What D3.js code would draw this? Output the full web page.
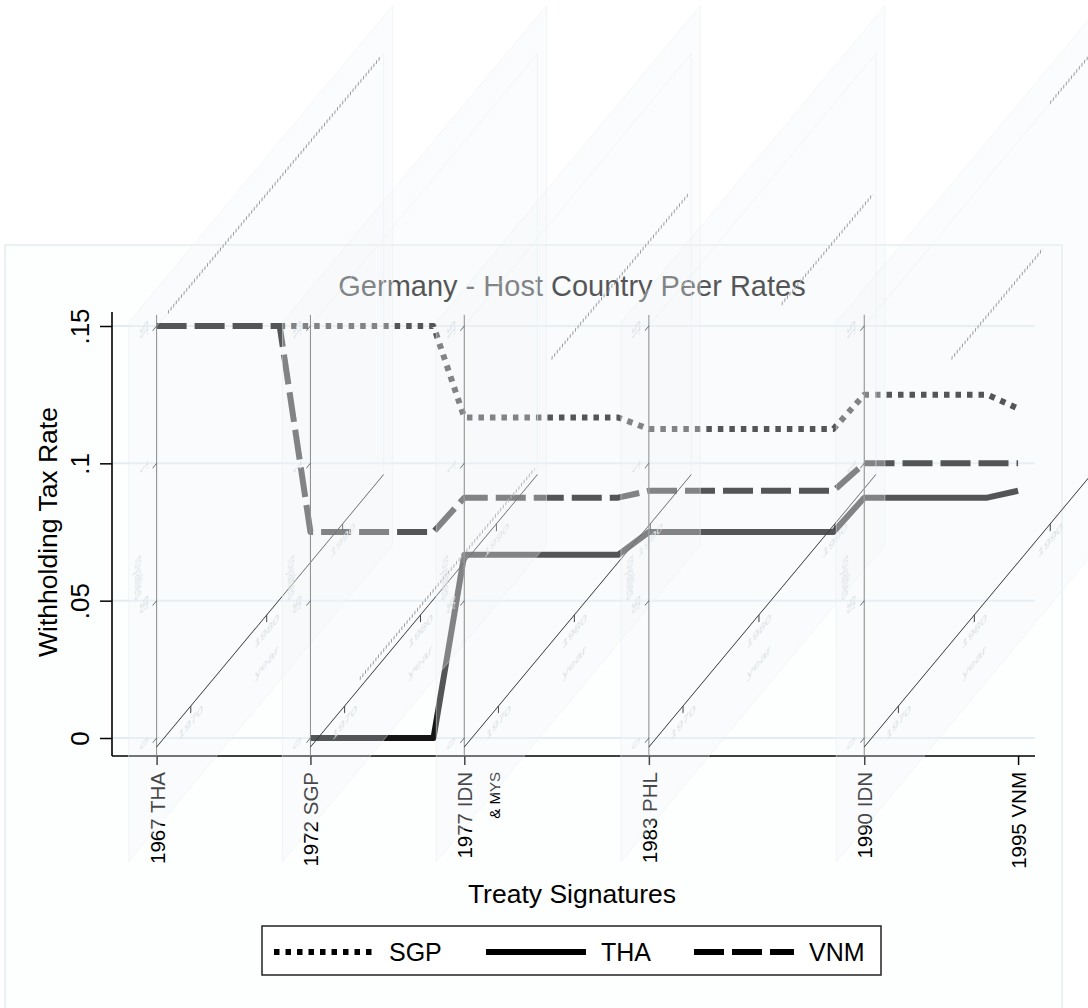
<!DOCTYPE html>
<html>
<head>
<meta charset="utf-8">
<script src="https://cdn.jsdelivr.net/npm/d3@7"></script>
<style>
  body { margin: 0; background: #fff; }
  svg { display: block; }
</style>
</head>
<body>
<div id="chart"></div>
<script>
// Germany - host country peer rates, redrawn with the inset panels that leak into the plot

// Treaty ticks on the x axis
const treatyYears = [1967, 1972, 1977, 1983, 1990, 1995];
const treatyLabels = ["1967 THA", "1972 SGP", "1977 IDN", "1983 PHL", "1990 IDN", "1995 VNM"];
const treatySubLabels = ["", "", "& MYS", "", "", ""];

// y axis
const yTicks = [0, 0.05, 0.1, 0.15];
const yTickLabels = ["0", ".05", ".1", ".15"];

// peer rate series
const seriesNames = ["SGP", "THA", "VNM"];
const sgpYears = [1971, 1976, 1977, 1982, 1983, 1989, 1990, 1994, 1995];
const sgpRates = [0.15, 0.15, 0.1167, 0.1167, 0.1125, 0.1125, 0.125, 0.125, 0.12];
const thaYears = [1972, 1976, 1977, 1982, 1983, 1989, 1990, 1994, 1995];
const thaRates = [0, 0, 0.0667, 0.0667, 0.075, 0.075, 0.0875, 0.0875, 0.09];
const vnmYears = [1967, 1971, 1972, 1976, 1977, 1982, 1983, 1989, 1990, 1995];
const vnmRates = [0.15, 0.15, 0.075, 0.075, 0.0875, 0.0875, 0.09, 0.09, 0.1, 0.1];

// small sheared inset plots (royalties by year), one per treaty tick
// null = gap in the inset line
const insetYearTicks = [1970, 1980, 1990];
const insetYears = [[1967, 1995], [1972, 1995], [1977, 1995], [1983, 1995], [1977, 1989, 1989.5, 1990, 1995]];
const insetRates = [[0.15, 0.15], [0, 0], [0.1, 0.1], [0.1, 0.1], [0.1, 0.1, null, 0.15, 0.15]];

const W = 1088, H = 1008;
const font = "'Liberation Sans', Arial, Helvetica, sans-serif";
const ink = "#151515";
const plot = { left: 112, right: 1035, top: 312, bottom: 756 };

const svg = d3.select("#chart").append("svg")
  .attr("width", W)
  .attr("height", H)
  .style("font-family", font);

// scales
const x = d3.scaleLinear().domain([1965.55, 1995.55]).range([plot.left, plot.right]);
const y = d3.scaleLinear().domain([0, 0.15]).range([738, 326]);
const insetX = d3.scaleLinear().domain([1965.5, 1995.4]).range([0, 227]);
const shear = 1.2;

// outer graph box
svg.append("rect")
  .attr("x", 5).attr("y", 245)
  .attr("width", 1057).attr("height", 780)
  .attr("fill", "#fdfefe")
  .attr("stroke", "#e4edf0")
  .attr("stroke-width", 1.5);

// gridlines
svg.append("g").selectAll("line")
  .data(yTicks)
  .join("line")
  .attr("x1", plot.left).attr("x2", plot.right)
  .attr("y1", d => y(d)).attr("y2", d => y(d))
  .attr("stroke", "#e3edf1")
  .attr("stroke-width", 2);

// x axis
const xAxis = svg.append("g")
  .attr("transform", `translate(0,${plot.bottom})`)
  .call(d3.axisBottom(x)
    .tickValues(treatyYears)
    .tickFormat((d, i) => treatyLabels[i])
    .tickSize(9)
    .tickPadding(0));
xAxis.select(".domain").remove();
xAxis.selectAll(".tick line").attr("stroke", "#000").attr("stroke-width", 1.5);
xAxis.selectAll(".tick text")
  .attr("transform", "rotate(-90)")
  .attr("x", -16)
  .attr("y", 0)
  .attr("dy", "0.36em")
  .attr("text-anchor", "end")
  .attr("font-size", 20.5)
  .attr("font-family", font)
  .attr("fill", "#000");
// second line under 1977
xAxis.selectAll(".tick").each(function (d, i) {
  if (!treatySubLabels[i]) return;
  d3.select(this).append("text")
    .attr("transform", "rotate(-90)")
    .attr("x", -16)
    .attr("y", 35)
    .attr("text-anchor", "end")
    .attr("font-size", 15)
    .attr("font-family", font)
    .attr("fill", "#000")
    .text(treatySubLabels[i]);
});
svg.append("line")
  .attr("x1", plot.left).attr("x2", plot.right)
  .attr("y1", plot.bottom).attr("y2", plot.bottom)
  .attr("stroke", "#000").attr("stroke-width", 1.6);

// y axis
const yAxis = svg.append("g")
  .attr("transform", `translate(${plot.left},0)`)
  .call(d3.axisLeft(y)
    .tickValues(yTicks)
    .tickFormat((d, i) => yTickLabels[i])
    .tickSize(12));
yAxis.select(".domain").remove();
yAxis.selectAll(".tick line").attr("stroke", "#000").attr("stroke-width", 1.5);
yAxis.selectAll(".tick text")
  .attr("transform", "rotate(-90)")
  .attr("x", 0)
  .attr("y", -23)
  .attr("dy", 0)
  .attr("text-anchor", "middle")
  .attr("font-size", 26)
  .attr("font-family", font)
  .attr("fill", "#000");
svg.append("line")
  .attr("x1", plot.left).attr("x2", plot.left)
  .attr("y1", plot.top).attr("y2", plot.bottom)
  .attr("stroke", "#000").attr("stroke-width", 1.6);

// title
svg.append("text")
  .attr("x", 572).attr("y", 296)
  .attr("text-anchor", "middle")
  .attr("font-size", 29)
  .attr("fill", ink)
  .text("Germany - Host Country Peer Rates");

// series
const series = [
  { name: seriesNames[0], pts: d3.zip(sgpYears, sgpRates), dash: "5.5,6" },
  { name: seriesNames[1], pts: d3.zip(thaYears, thaRates), dash: null },
  { name: seriesNames[2], pts: d3.zip(vnmYears, vnmRates), dash: "30,8" }
];
const line = d3.line().x(d => x(d[0])).y(d => y(d[1]));

series.forEach(s => {
  svg.append("path")
    .attr("d", line(s.pts))
    .attr("fill", "none")
    .attr("stroke", ink)
    .attr("stroke-width", 6)
    .attr("stroke-linejoin", "round")
    .attr("stroke-dasharray", s.dash);
});

// inset panels: tinted sheared boxes laid over the lines
const panelYears = treatyYears.slice(0, 5);
const panels = panelYears.map(yr =>
  svg.append("g").attr("transform", `translate(${x(yr)},0) matrix(1,${-shear},0,1,0,0)`)
);
panels.forEach(g => {
  g.append("rect")
    .attr("x", -28).attr("y", 289)
    .attr("width", 264).attr("height", 539)
    .attr("fill", "rgb(241,245,247)")
    .attr("fill-opacity", 0.29)
    .attr("stroke", "#e8f0f2")
    .attr("stroke-opacity", 0.5);
});

// inset contents on top
const insetLine = d3.line()
  .defined(d => d[1] != null)
  .x(d => insetX(d[0]))
  .y(d => y(d[1]));

panels.forEach((g, k) => {
  g.append("rect")
    .attr("x", 0).attr("y", y(0.15))
    .attr("width", 227).attr("height", 747 - y(0.15))
    .attr("fill", "none")
    .attr("stroke", "#e8f0f2")
    .attr("stroke-opacity", 0.6);

  // vertical inset axis
  g.append("line")
    .attr("x1", 0).attr("x2", 0)
    .attr("y1", 315).attr("y2", 756)
    .attr("stroke", "#8c8c8c").attr("stroke-width", 1);
  yTicks.forEach((v, i) => {
    g.append("line")
      .attr("x1", -4).attr("x2", 0)
      .attr("y1", y(v)).attr("y2", y(v))
      .attr("stroke", "#555").attr("stroke-width", 1);
    g.append("text")
      .attr("transform", `translate(-9,${y(v) - 10}) rotate(-90)`)
      .attr("text-anchor", "middle")
      .attr("font-size", 11)
      .attr("fill", "#dce2e5")
      .text(yTickLabels[i]);
  });
  g.append("text")
    .attr("transform", "translate(-22,555) rotate(90)")
    .attr("text-anchor", "middle")
    .attr("font-size", 11)
    .attr("fill", "#dfe4e7")
    .text("royalties");

  // sheared inset x axis
  g.append("line")
    .attr("x1", 0).attr("x2", 227)
    .attr("y1", 747).attr("y2", 747)
    .attr("stroke", "#111").attr("stroke-width", 1);
  insetYearTicks.forEach(t => {
    g.append("line")
      .attr("x1", insetX(t)).attr("x2", insetX(t))
      .attr("y1", 747).attr("y2", 754)
      .attr("stroke", "#444").attr("stroke-width", 1);
    g.append("text")
      .attr("x", insetX(t)).attr("y", 767)
      .attr("text-anchor", "middle")
      .attr("font-size", 11)
      .attr("fill", "#dce2e5")
      .text(t);
  });
  g.append("text")
    .attr("x", insetX(1980)).attr("y", 798)
    .attr("text-anchor", "middle")
    .attr("font-size", 12)
    .attr("fill", "#dfe4e7")
    .text("year");

  // hatched inset series
  const pts = d3.zip(insetYears[k], insetRates[k]);
  g.append("path")
    .attr("d", insetLine(pts))
    .attr("fill", "none")
    .attr("stroke", "#9c9c9c")
    .attr("stroke-width", 3.5)
    .attr("stroke-dasharray", "1,1.6");
});

// axis titles
svg.append("text")
  .attr("transform", "translate(57,532) rotate(-90)")
  .attr("text-anchor", "middle")
  .attr("font-size", 26.5)
  .attr("fill", "#000")
  .text("Withholding Tax Rate");

svg.append("text")
  .attr("x", 572).attr("y", 903)
  .attr("text-anchor", "middle")
  .attr("font-size", 26.5)
  .attr("fill", "#000")
  .text("Treaty Signatures");

// legend
const legend = svg.append("g").attr("transform", "translate(262,926)");
legend.append("rect")
  .attr("x", 0).attr("y", 0)
  .attr("width", 619).attr("height", 49)
  .attr("fill", "#fff")
  .attr("stroke", "#222")
  .attr("stroke-width", 1.5);

const legendX = [12, 224, 432];
series.forEach((s, i) => {
  legend.append("line")
    .attr("x1", legendX[i]).attr("x2", legendX[i] + 100)
    .attr("y1", 26).attr("y2", 26)
    .attr("stroke", "#000")
    .attr("stroke-width", 6)
    .attr("stroke-dasharray", s.dash);
  legend.append("text")
    .attr("x", legendX[i] + 115).attr("y", 35)
    .attr("font-size", 25)
    .attr("fill", "#000")
    .text(s.name);
});
</script>
</body>
</html>
